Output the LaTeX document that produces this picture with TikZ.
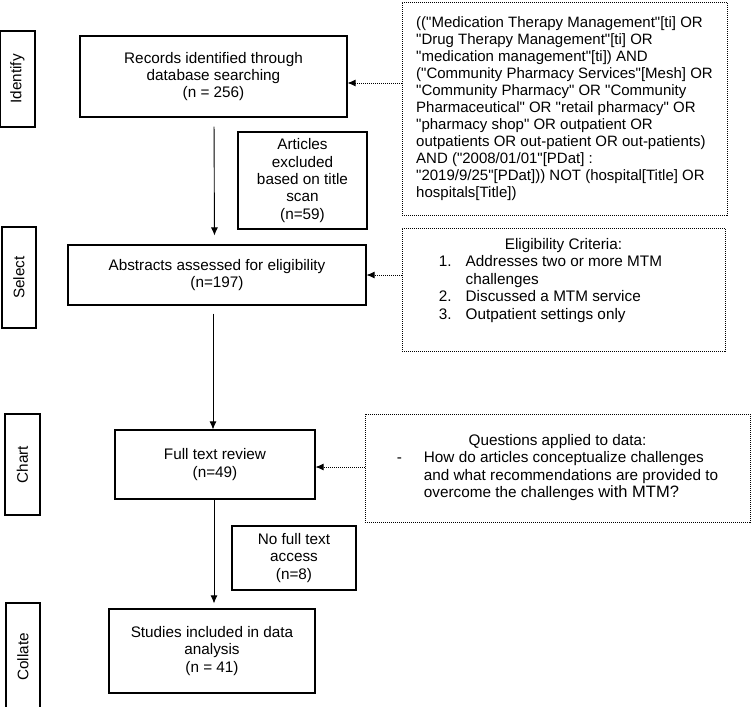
\documentclass[tikz,border=0pt]{standalone}
\usepackage{fontspec}
\setmainfont{Liberation Sans}[Ligatures=TeXOff]
\usetikzlibrary{arrows.meta}
\begin{document}
\begin{tikzpicture}[x=1pt,y=-1pt,inner sep=0mm,font=\fontsize{15.3}{17.4}\selectfont]
\tikzstyle{caja}=[draw,line width=1.1pt,align=center]
\tikzstyle{punteada}=[draw,line width=0.8pt,dash pattern=on 1pt off 1pt]
\tikzstyle{etapa}=[draw,line width=1.1pt,rotate=90]
\tikzstyle{flecha}=[line width=0.9pt,-{Latex[length=8pt,width=7pt]}]
\tikzstyle{flechap}=[line width=0.8pt,dash pattern=on 1pt off 1pt,-{Latex[length=8pt,width=7pt]}]
\useasboundingbox (0,0) rectangle (751,706);
%% etapas a la izquierda
\node at (17.5,79) (etapa1)[etapa,minimum width=96pt,minimum height=35pt] {Identify};
\node at (19,277.5) (etapa2)[etapa,minimum width=101pt,minimum height=34pt] {Select};
\node at (22.5,464.5) (etapa3)[etapa,minimum width=101pt,minimum height=35pt] {Chart};
\node at (23,657) (etapa4)[etapa,minimum width=108pt,minimum height=34pt] {Collate};
%% cajas principales
\node at (213.5,76.5) (caja1)[caja,minimum width=267pt,minimum height=81pt] {Records identified through\\database searching\\(n = 256)};
\node at (217,275) (caja2)[caja,minimum width=298pt,minimum height=60pt] {Abstracts assessed for eligibility\\(n=197)};
\node at (215,464.5) (caja3)[caja,minimum width=200pt,minimum height=69pt] {Full text review\\(n=49)};
\node at (212,651) (caja4)[caja,minimum width=206pt,minimum height=84pt] {Studies included in data\\analysis\\(n = 41)};
%% excluidos
\node at (302.5,180.5) (excl1)[caja,minimum width=129pt,minimum height=97pt] {Articles\\excluded\\based on title\\scan\\(n=59)};
\node at (294,558) (excl2)[caja,minimum width=124pt,minimum height=64pt] {No full text\\access\\(n=8)};
%% cajas punteadas
\node at (564.5,108.5) (busq)[punteada,align=left,minimum width=325pt,minimum height=213pt,font=\fontsize{15}{17}\selectfont] {(("Medication Therapy Management"[ti] OR\\
"Drug Therapy Management"[ti] OR\\
"medication management"[ti]) AND\\
("Community Pharmacy Services"[Mesh] OR\\
"Community Pharmacy" OR "Community\\
Pharmaceutical" OR "retail pharmacy" OR\\
"pharmacy shop" OR outpatient OR\\
outpatients OR out-patient OR out-patients)\\
AND ("2008/01/01"[PDat] :\\
"2019/9/25"[PDat])) NOT (hospital[Title] OR\\
hospitals[Title])};
\node at (563.5,289.5) (crit)[punteada,minimum width=323pt,minimum height=123pt] {\begin{tabular}{@{}r@{\hspace{14pt}}l@{\hspace{26pt}}}
\multicolumn{2}{@{}c@{}}{Eligibility Criteria:}\\
1. & Addresses two or more MTM\\
 & challenges\\
2. & Discussed a MTM service\\
3. & Outpatient settings only\\
 & \end{tabular}};
\node at (557.5,468) (preg)[punteada,minimum width=385pt,minimum height=108pt] {\begin{tabular}{@{}l@{\hspace{22pt}}l@{}}
\multicolumn{2}{@{}c@{}}{Questions applied to data:}\\
- & How do articles conceptualize challenges\\
 & and what recommendations are provided to\\
 & overcome the challenges {\fontsize{16.5}{20}\selectfont with MTM?}\end{tabular}};
%% flechas
\draw [flecha,shorten <=9pt,shorten >=9pt] ([xshift=0.5pt]caja1.south) to ([xshift=-2.5pt]caja2.north);
\draw [flecha,shorten <=8pt] ([xshift=-4pt]caja2.south) to ([xshift=-2pt]caja3.north);
\draw [flecha,shorten >=5pt] ([xshift=-1pt]caja3.south) to ([xshift=2pt]caja4.north);
\draw [flechap] ([yshift=-6.5pt]busq.west |- caja1.east) to ([yshift=-6.5pt]caja1.east);
\draw [flechap] (crit.west |- caja2.east) to (caja2.east);
\draw [flechap] ([yshift=-2.5pt]preg.west |- caja3.east) to ([yshift=-2.5pt]caja3.east);
\end{tikzpicture}
\end{document}
